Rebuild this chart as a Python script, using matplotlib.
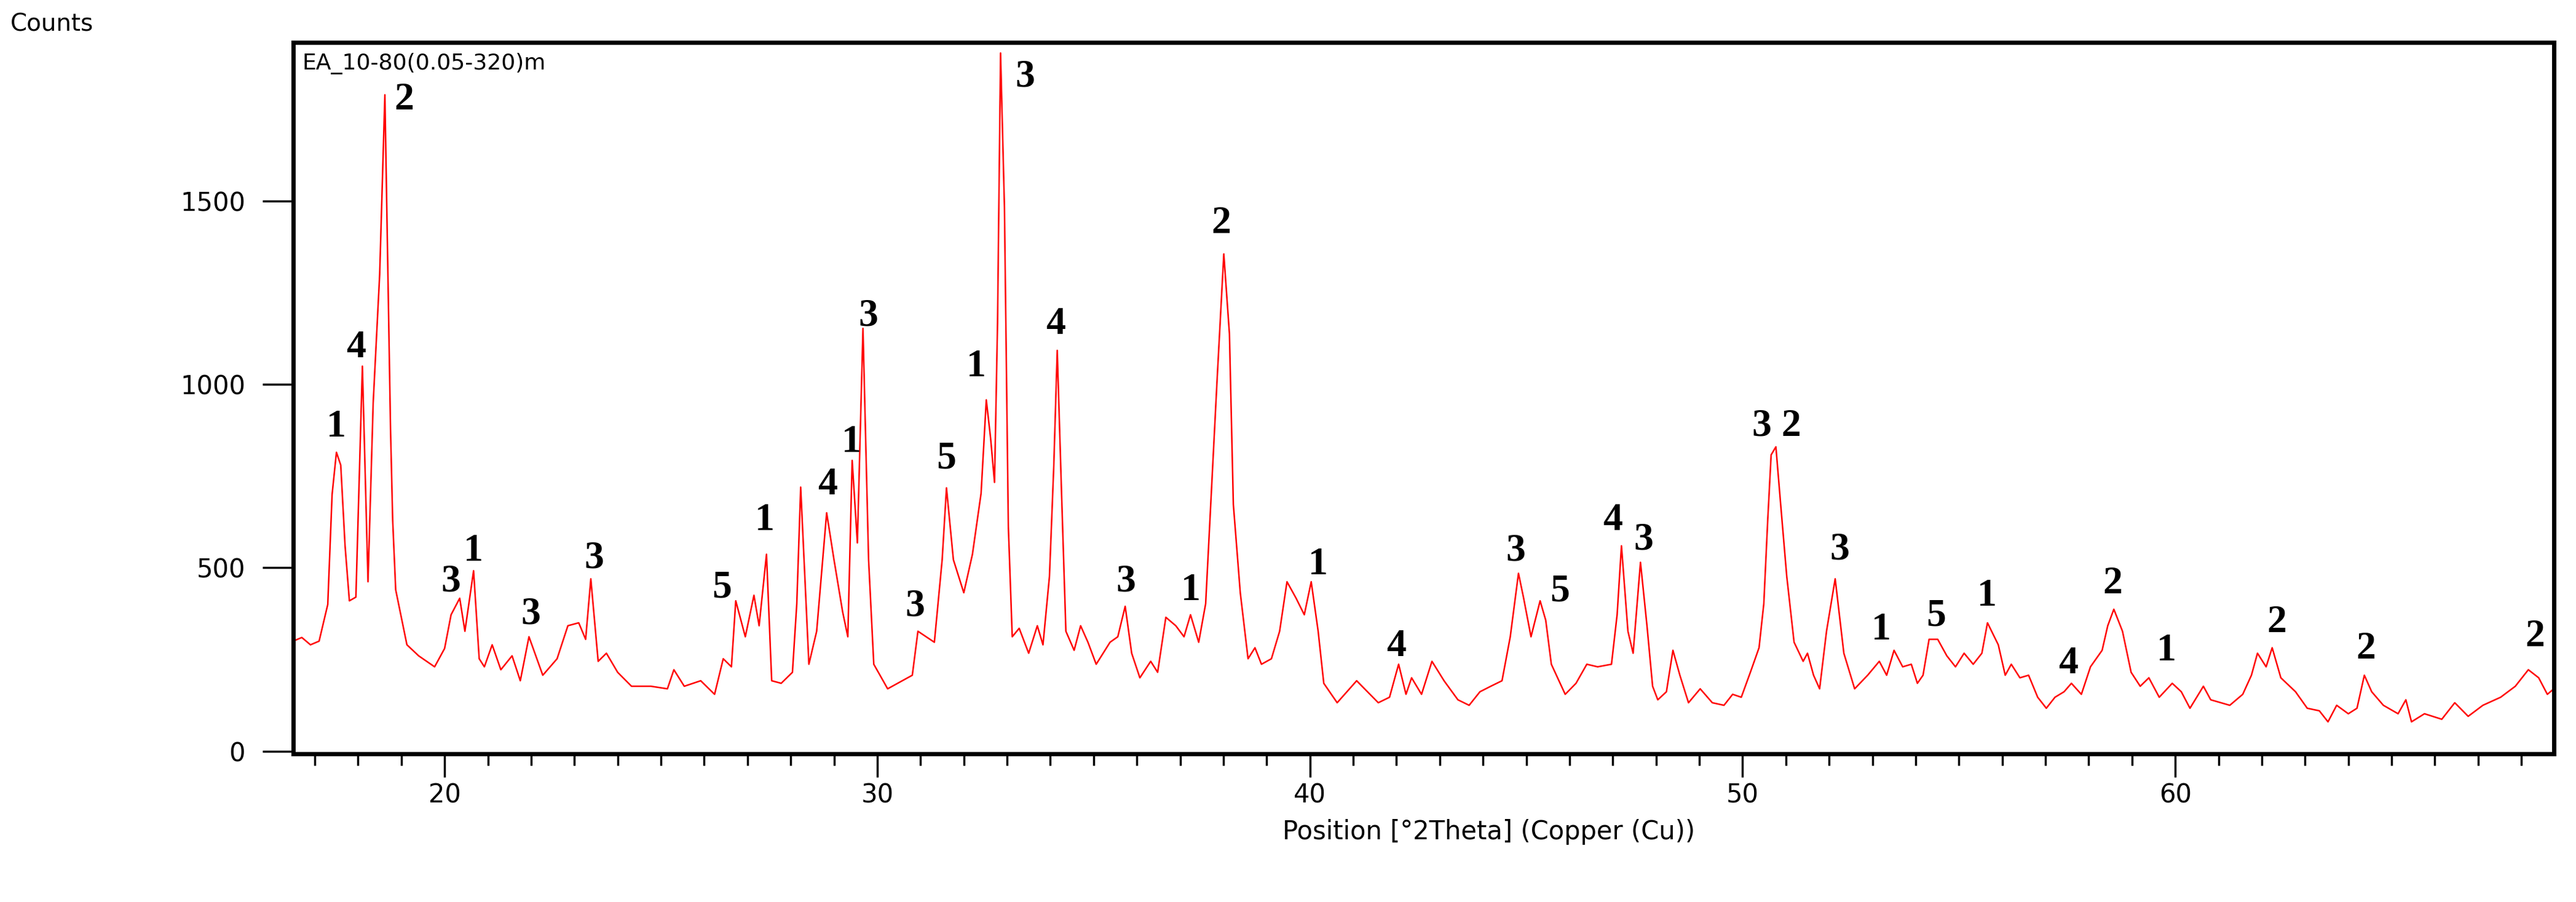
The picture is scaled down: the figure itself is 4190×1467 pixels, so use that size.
import matplotlib
matplotlib.use("Agg")
import matplotlib.pyplot as plt
import numpy as np

# XRD trace (2theta in degrees, counts)
two_theta = [
    16.5, 16.7, 16.9, 17.1, 17.3, 17.4, 17.5, 17.6, 17.7, 17.8, 17.95, 18.1, 18.23, 18.35, 18.5, 18.62,
    18.75, 18.8, 18.87, 19.13, 19.4, 19.77, 20.0, 20.15, 20.35, 20.47, 20.67, 20.8, 20.92, 21.1,
    21.3, 21.56, 21.75, 21.95, 22.27, 22.6, 22.85, 23.1, 23.26, 23.38, 23.55, 23.74, 24.0, 24.32,
    24.77, 25.15, 25.3, 25.54, 25.92, 26.24, 26.44, 26.63, 26.73, 26.95, 27.15, 27.27, 27.44, 27.56,
    27.78, 28.04, 28.14, 28.23, 28.42, 28.6, 28.83, 29.0, 29.2, 29.32, 29.42, 29.54, 29.67, 29.8,
    29.92, 30.24, 30.81, 30.94, 31.32, 31.5, 31.6, 31.76, 32.0, 32.2, 32.4, 32.52, 32.62, 32.71,
    32.78, 32.85, 32.94, 33.03, 33.12, 33.28, 33.5, 33.7, 33.83, 33.98, 34.08, 34.16, 34.26, 34.36,
    34.55, 34.7, 34.87, 35.06, 35.38, 35.56, 35.73, 35.88, 36.07, 36.32, 36.48, 36.67, 36.9, 37.09,
    37.24, 37.43, 37.59, 37.72, 37.85, 38.01, 38.14, 38.23, 38.39, 38.57, 38.73, 38.88, 39.11, 39.3,
    39.47, 39.68, 39.87, 40.03, 40.19, 40.32, 40.63, 41.08, 41.58, 41.84, 42.05, 42.22, 42.35, 42.58,
    42.82, 43.1, 43.42, 43.68, 43.93, 44.18, 44.44, 44.63, 44.82, 44.94, 45.11, 45.32, 45.45, 45.58,
    45.9, 46.15, 46.4, 46.65, 46.97, 47.1, 47.2, 47.35, 47.47, 47.64, 47.79, 47.92, 48.04, 48.24,
    48.39, 48.55, 48.75, 49.02, 49.3, 49.57, 49.77, 49.97, 50.18, 50.38, 50.49, 50.58, 50.66, 50.77,
    50.88, 51.02, 51.19, 51.4, 51.5, 51.64, 51.78, 51.94, 52.14, 52.34, 52.59, 52.89, 53.16, 53.33,
    53.5, 53.7, 53.9, 54.04, 54.17, 54.31, 54.51, 54.72, 54.92, 55.12, 55.33, 55.53, 55.66, 55.91,
    56.07, 56.21, 56.41, 56.61, 56.82, 57.02, 57.22, 57.43, 57.6, 57.83, 58.04, 58.31, 58.44, 58.58,
    58.78, 58.98, 59.19, 59.39, 59.63, 59.93, 60.14, 60.34, 60.65, 60.82, 61.26, 61.56, 61.76, 61.9,
    62.1, 62.24, 62.44, 62.78, 63.05, 63.33, 63.53, 63.73, 64.0, 64.2, 64.37, 64.54, 64.81, 65.15,
    65.33, 65.46, 65.76, 66.16, 66.46, 66.77, 67.11, 67.52, 67.86, 68.16, 68.4, 68.6, 68.75,
]
counts = [
    300, 310, 290, 300, 400, 700, 815, 780, 560, 410, 420, 1050, 462, 950, 1300, 1790,
    880, 630, 440, 290, 260, 230, 280, 372, 417, 327, 492, 252, 230, 290,
    222, 260, 192, 312, 207, 252, 342, 350, 305, 470, 245, 267, 215, 177,
    177, 170, 222, 177, 192, 155, 252, 230, 410, 312, 425, 342, 537, 192,
    185, 215, 402, 720, 237, 327, 650, 522, 380, 312, 793, 568, 1153, 522,
    237, 170, 207, 327, 297, 522, 718, 522, 432, 537, 703, 958, 853, 733,
    1168, 1904, 1483, 613, 312, 335, 267, 342, 290, 477, 778, 1093, 703, 327,
    275, 342, 297, 237, 297, 312, 395, 267, 200, 245, 215, 365, 342, 312,
    372, 297, 402, 703, 1003, 1356, 1138, 673, 432, 252, 282, 237, 252, 327,
    462, 417, 372, 462, 327, 185, 132, 192, 132, 147, 237, 155, 200, 155,
    245, 192, 140, 125, 162, 177, 192, 312, 485, 417, 312, 410, 357, 237,
    155, 185, 237, 230, 237, 372, 560, 327, 267, 515, 342, 177, 140, 162,
    275, 207, 132, 170, 132, 125, 155, 147, 215, 282, 402, 628, 808, 830,
    673, 477, 297, 245, 267, 207, 170, 327, 470, 267, 170, 207, 245, 207,
    275, 230, 237, 185, 207, 305, 305, 260, 230, 267, 237, 267, 350, 290,
    207, 237, 200, 207, 147, 117, 147, 162, 185, 155, 230, 275, 342, 387,
    327, 215, 177, 200, 147, 185, 162, 117, 177, 140, 125, 155, 207, 267,
    230, 282, 200, 162, 117, 110, 80, 125, 102, 117, 207, 162, 125, 102,
    140, 80, 102, 87, 132, 95, 125, 147, 177, 222, 200, 155, 170,
]

# phase labels (text, 2theta, counts)
peak_text = ["1", "4", "2", "3", "1", "3", "3", "5", "1", "4", "1", "3", "3", "5", "1", "3", "4",
             "3", "1", "2", "1", "4", "3", "5", "4", "3", "3 2", "3", "1", "5", "1", "4", "2",
             "1", "2", "2", "2"]
peak_x = [17.5, 17.95, 19.06, 20.15, 20.67, 21.99, 23.46, 26.41, 27.4, 28.85, 29.4, 29.8, 30.87,
          31.6, 32.29, 33.41, 34.13, 35.75, 37.24, 37.95, 40.19, 41.99, 44.75, 45.77, 47.0, 47.71,
          50.79, 52.25, 53.2, 54.47, 55.64, 57.53, 58.55, 59.8, 62.34, 64.4, 68.31]
peak_y = [883, 1100, 1776, 462, 545, 372, 525, 444, 628, 725, 841, 1186, 395, 796, 1048, 1839,
          1164, 462, 437, 1438, 508, 285, 545, 435, 628, 575, 886, 548, 330, 368, 422, 237, 455,
          272, 350, 278, 312]

fig = plt.figure(figsize=(41.9, 14.67), dpi=100)
ax = fig.add_axes([0.1138, 0.164, 0.8776, 0.789])
ax.plot(two_theta, counts, color="#ff0000", lw=1.8)

for t, x, y in zip(peak_text, peak_x, peak_y):
    ax.text(x, y, t, ha="center", va="center", fontsize=46, weight="bold",
            family="Liberation Serif", color="black")

ax.set_xlim(16.5, 68.75)
ax.set_ylim(-8, 1933)
ax.set_xticks([20, 30, 40, 50, 60])
ax.set_xticks(np.arange(17, 69, 1), minor=True)
ax.set_yticks([0, 500, 1000, 1500])
ax.tick_params(axis="y", length=36, width=2.5, labelsize=30, pad=20)
ax.tick_params(axis="x", which="major", length=27, width=2.5, labelsize=30, pad=6)
ax.tick_params(axis="x", which="minor", length=14, width=2.5)
for s in ax.spines.values():
    s.set_linewidth(5)

ax.text(0.004, 0.985, "EA_10-80(0.05-320)m", transform=ax.transAxes, ha="left", va="top",
        fontsize=26)
fig.text(0.004, 0.973, "Counts", ha="left", va="center", fontsize=28)
fig.text(0.578, 0.078, "Position [°2Theta] (Copper (Cu))", ha="center", va="center", fontsize=30)

fig.savefig("out.png", dpi=100)
